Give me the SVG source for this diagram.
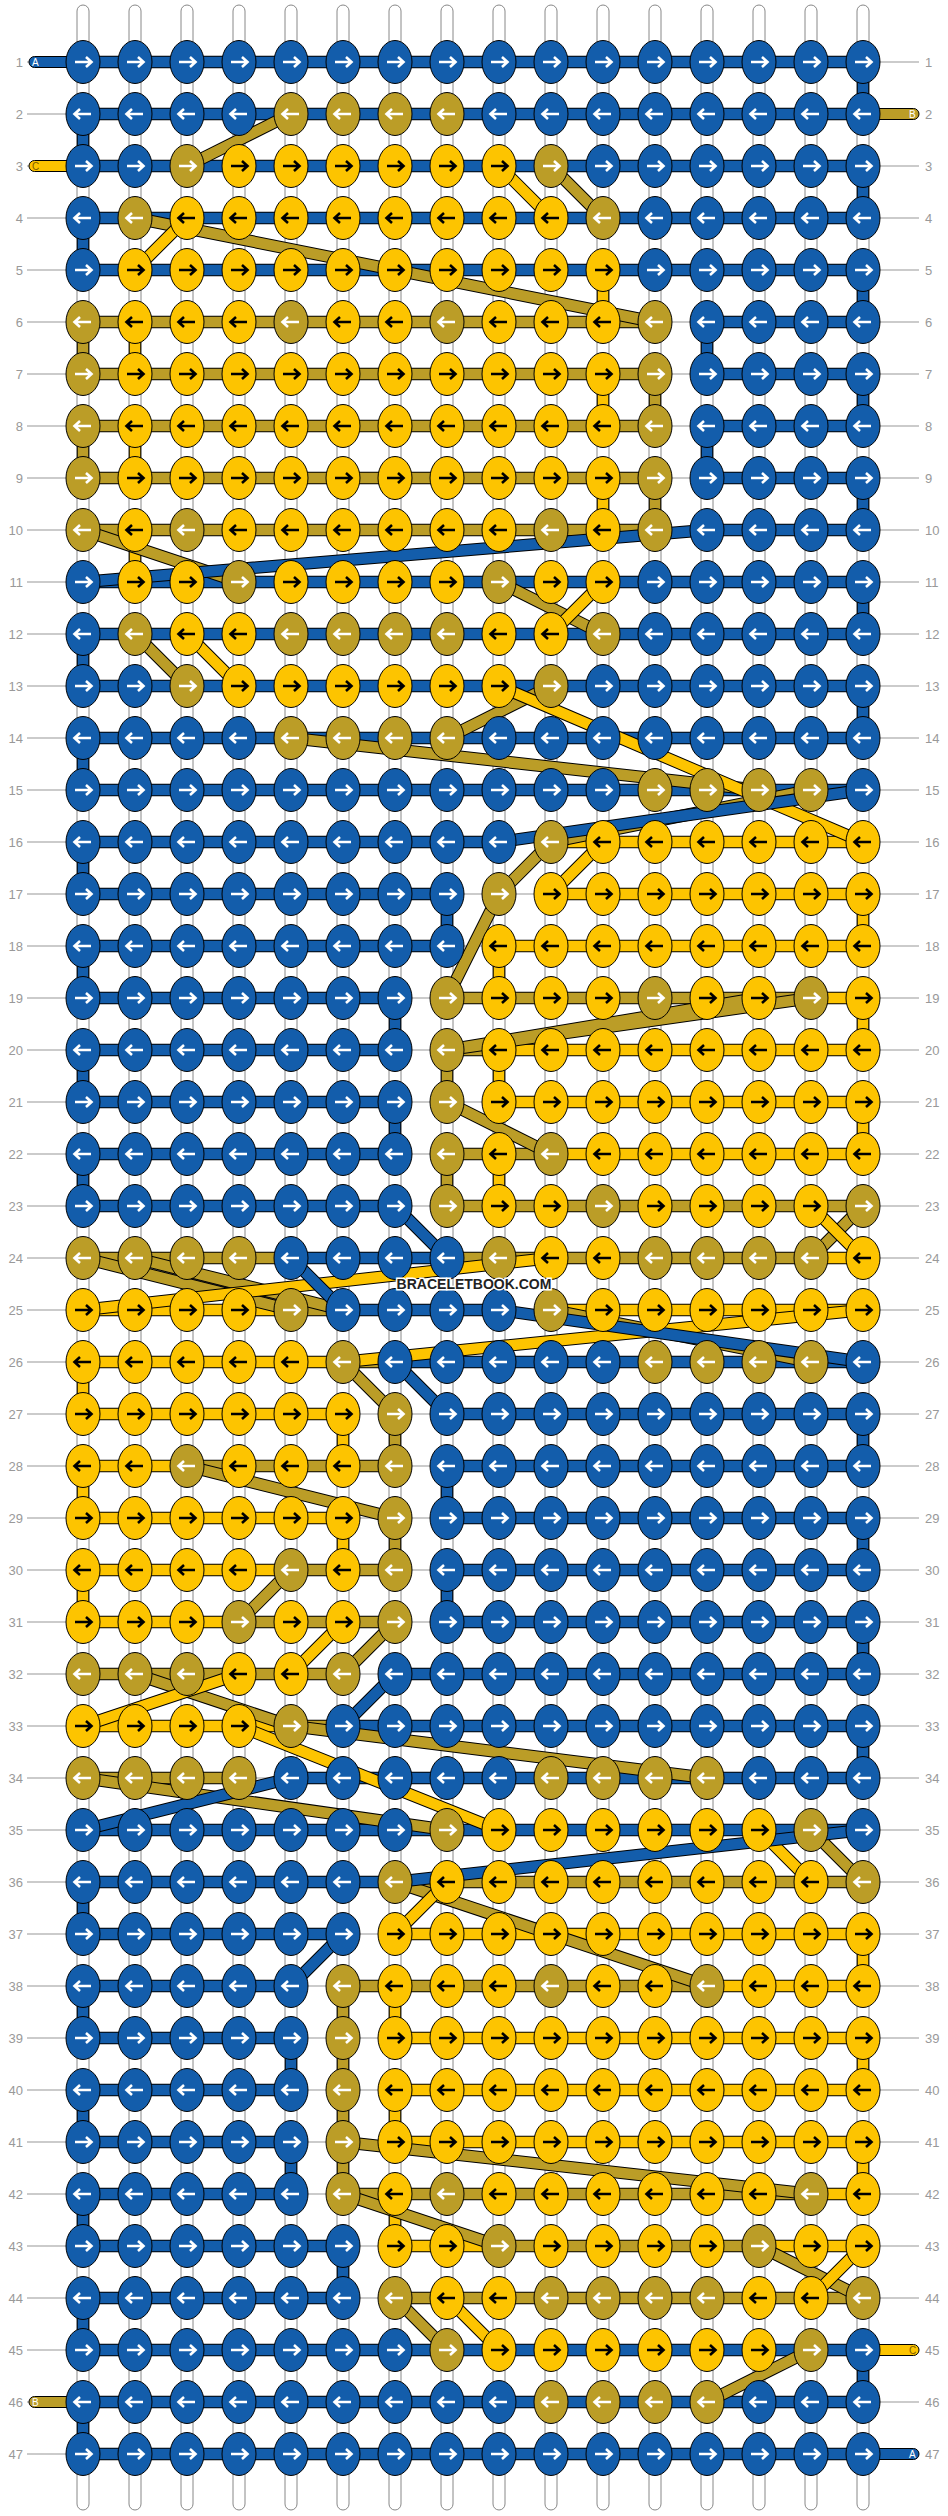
<svg xmlns="http://www.w3.org/2000/svg" xmlns:xlink="http://www.w3.org/1999/xlink" width="948" height="2516" viewBox="0 0 948 2516">
<style>
.g{fill:none;stroke:#bbb;stroke-width:1.3}
.w{fill:#fff;stroke:#888;stroke-width:1}
.o{fill:none;stroke:#000;stroke-width:12.5}
.cb{fill:none;stroke:#135dab;stroke-width:10.5}
.cy{fill:none;stroke:#fdc400;stroke-width:10.5}
.co{fill:none;stroke:#bb9d27;stroke-width:10.5}
.kb{fill:#135dab;stroke:#000;stroke-width:1}
.ky{fill:#fdc400;stroke:#000;stroke-width:1}
.ko{fill:#bb9d27;stroke:#000;stroke-width:1}
.aw{fill:none;stroke:#fff;stroke-width:2.6}
.ak{fill:none;stroke:#000;stroke-width:2.6}
.lb{font-family:"Liberation Sans",Arial,sans-serif;font-size:13px;fill:#999}
.cl{font-family:"Liberation Sans",Arial,sans-serif;font-size:10px}
</style>
<defs>
<ellipse id="e" rx="17" ry="21.5"/>
<path id="ar" d="M-8 0H8M3-5L8.5 0L3 5"/>
<g id="bR"><use href="#e" class="kb"/><use href="#ar" class="aw"/></g>
<g id="bL"><use href="#e" class="kb"/><use href="#ar" class="aw" transform="scale(-1 1)"/></g>
<g id="yR"><use href="#e" class="ky"/><use href="#ar" class="ak"/></g>
<g id="yL"><use href="#e" class="ky"/><use href="#ar" class="ak" transform="scale(-1 1)"/></g>
<g id="oR"><use href="#e" class="ko"/><use href="#ar" class="aw"/></g>
<g id="oL"><use href="#e" class="ko"/><use href="#ar" class="aw" transform="scale(-1 1)"/></g>
<path id="hB" d="M83 62H863M83 114H863M83 166H863M83 218H863M83 270H863M707 322H863M707 374H863M707 426H863M707 478H863M707 530H863M83 582H863M83 634H863M83 686H863M83 738H863M83 790H863M83 842H499M83 894H447M83 946H447M83 998H395M83 1050H395M83 1102H395M83 1154H395M83 1206H395M291 1258H447M343 1310H499M395 1362H863M447 1414H863M447 1466H863M447 1518H863M447 1570H863M447 1622H863M395 1674H863M343 1726H863M291 1778H863M83 1830H863M83 1882H395M83 1934H343M83 1986H291M83 2038H291M83 2090H291M83 2142H291M83 2194H291M83 2246H343M83 2298H343M83 2350H863M83 2402H863M83 2454H863M863 62V114M83 114V166M863 166V218M83 218V270M863 270V322M707 322V374M863 374V426M707 426V478M863 478V530M863 582V634M83 634V686M863 686V738M83 738V790M83 842V894M447 894V946M83 946V998M395 998V1050M83 1050V1102M395 1102V1154M83 1154V1206M863 1414V1466M447 1466V1518M863 1518V1570M447 1570V1622M863 1622V1674M863 1726V1778M83 1882V1934M83 1986V2038M291 2038V2090M83 2090V2142M291 2142V2194M83 2194V2246M343 2246V2298M83 2298V2350M863 2350V2402M83 2402V2454"/>
<path id="hY" d="M551 842H863M551 894H863M499 946H863M811 998H863M499 1050H863M499 1102H863M551 1154H863M811 1258H863M83 1310H291M551 1310H863M83 1362H343M83 1414H343M83 1466H187M83 1518H343M83 1570H291M83 1622H239M83 1726H291M395 1934H863M707 1986H863M395 2038H863M395 2090H863M395 2142H863M811 2194H863M395 2246H499M759 2246H863M603 270V322M135 322V374M603 374V426M135 426V478M603 478V530M135 530V582M863 894V946M499 946V998M863 998V1050M499 1050V1102M863 1102V1154M499 1154V1206M83 1362V1414M343 1414V1466M83 1466V1518M343 1518V1570M83 1570V1622M863 1934V1986M395 1986V2038M863 2038V2090M395 2090V2142M863 2142V2194M395 2194V2246"/>
<path id="hO" d="M83 322H655M83 374H655M83 426H655M83 478H655M83 530H655M447 998H811M447 1050H499M447 1154H551M447 1206H863M83 1258H291M447 1258H811M291 1310H343M343 1362H395M187 1466H395M291 1570H395M239 1622H395M83 1674H343M291 1726H343M83 1778H239M395 1882H863M343 1986H707M343 2194H811M499 2246H759M395 2298H863M83 322V374M655 374V426M83 426V478M655 478V530M447 1050V1102M447 1154V1206M395 1414V1466M395 1518V1570M343 1986V2038M343 2038V2090M343 2090V2142M343 2142V2194"/>
<path id="dO" d="M291 114L187 166M551 166L603 218M135 218L655 322M83 530L239 582M499 582L603 634M135 634L187 686M551 686L447 738M291 738L759 790M811 790L551 842M551 842L499 894M499 894L447 998M811 998L447 1050M759 998L447 1050M447 1102L551 1154M863 1206L811 1258M83 1258L291 1310M135 1258L343 1310M551 1310L811 1362M343 1362L395 1414M187 1466L395 1518M291 1570L239 1622M395 1622L343 1674M135 1674L291 1726M291 1726L707 1778M83 1778L447 1830M811 1830L863 1882M395 1882L707 1986M343 2142L811 2194M343 2194L499 2246M759 2246L863 2298M395 2298L447 2350M811 2350L707 2402"/>
<path id="dY" d="M499 166L551 218M187 218L135 270M603 582L551 634M187 634L239 686M499 686L863 842M603 842L551 894M811 1206L863 1258M83 1310L551 1258M343 1362L863 1310M343 1622L291 1674M83 1726L239 1674M239 1726L499 1830M759 1830L811 1882M447 1882L395 1934M863 2246L811 2298M447 2298L499 2350"/>
<path id="dB" d="M707 530L83 582M863 790L499 842M395 1206L447 1258M291 1258L343 1310M499 1310L863 1362M395 1362L447 1414M343 1726L395 1674M83 1830L291 1778M863 1830L395 1882M343 1934L291 1986"/>
</defs>
<rect width="948" height="2516" fill="#fff"/>
<path id="guides" class="g" d="M27 62H919M27 114H919M27 166H919M27 218H919M27 270H919M27 322H919M27 374H919M27 426H919M27 478H919M27 530H919M27 582H919M27 634H919M27 686H919M27 738H919M27 790H919M27 842H919M27 894H919M27 946H919M27 998H919M27 1050H919M27 1102H919M27 1154H919M27 1206H919M27 1258H919M27 1310H919M27 1362H919M27 1414H919M27 1466H919M27 1518H919M27 1570H919M27 1622H919M27 1674H919M27 1726H919M27 1778H919M27 1830H919M27 1882H919M27 1934H919M27 1986H919M27 2038H919M27 2090H919M27 2142H919M27 2194H919M27 2246H919M27 2298H919M27 2350H919M27 2402H919M27 2454H919"/>
<g id="warps" class="w">
<rect x="77" y="5" width="12" height="2505" rx="6"/><rect x="129" y="5" width="12" height="2505" rx="6"/><rect x="181" y="5" width="12" height="2505" rx="6"/><rect x="233" y="5" width="12" height="2505" rx="6"/><rect x="285" y="5" width="12" height="2505" rx="6"/><rect x="337" y="5" width="12" height="2505" rx="6"/><rect x="389" y="5" width="12" height="2505" rx="6"/><rect x="441" y="5" width="12" height="2505" rx="6"/><rect x="493" y="5" width="12" height="2505" rx="6"/><rect x="545" y="5" width="12" height="2505" rx="6"/><rect x="597" y="5" width="12" height="2505" rx="6"/><rect x="649" y="5" width="12" height="2505" rx="6"/><rect x="701" y="5" width="12" height="2505" rx="6"/><rect x="753" y="5" width="12" height="2505" rx="6"/><rect x="805" y="5" width="12" height="2505" rx="6"/><rect x="857" y="5" width="12" height="2505" rx="6"/>
</g>
<g id="connectors">
<use href="#hB" class="o"/><use href="#hB" class="cb"/>
<use href="#hY" class="o"/><use href="#hY" class="cy"/>
<use href="#hO" class="o"/><use href="#hO" class="co"/>
<use href="#dO" class="o"/><use href="#dO" class="co"/>
<use href="#dY" class="o"/><use href="#dY" class="cy"/>
<use href="#dB" class="o"/><use href="#dB" class="cb"/>
</g>
<g id="ends">
<rect x="29" y="56.5" width="58" height="11" rx="5.5" class="kb"/><text x="32" y="66" class="cl" fill="#fff">A</text>
<rect x="859" y="108.5" width="60" height="11" rx="5.5" class="ko"/><text x="909" y="118" class="cl" fill="#fff">B</text>
<rect x="29" y="160.5" width="58" height="11" rx="5.5" class="ky"/><text x="32" y="170" class="cl" fill="#7a5a00">C</text>
<rect x="859" y="2344.5" width="60" height="11" rx="5.5" class="ky"/><text x="909" y="2354" class="cl" fill="#7a5a00">C</text>
<rect x="29" y="2396.5" width="58" height="11" rx="5.5" class="ko"/><text x="32" y="2406" class="cl" fill="#fff">B</text>
<rect x="859" y="2448.5" width="60" height="11" rx="5.5" class="kb"/><text x="909" y="2458" class="cl" fill="#fff">A</text>
</g>
<g id="knots">
<g id="r1" transform="translate(0,62)"><use id="k1-1" href="#bR" x="83"/><use id="k1-2" href="#bR" x="135"/><use id="k1-3" href="#bR" x="187"/><use id="k1-4" href="#bR" x="239"/><use id="k1-5" href="#bR" x="291"/><use id="k1-6" href="#bR" x="343"/><use id="k1-7" href="#bR" x="395"/><use id="k1-8" href="#bR" x="447"/><use id="k1-9" href="#bR" x="499"/><use id="k1-10" href="#bR" x="551"/><use id="k1-11" href="#bR" x="603"/><use id="k1-12" href="#bR" x="655"/><use id="k1-13" href="#bR" x="707"/><use id="k1-14" href="#bR" x="759"/><use id="k1-15" href="#bR" x="811"/><use id="k1-16" href="#bR" x="863"/></g>
<g id="r2" transform="translate(0,114)"><use id="k2-1" href="#bL" x="83"/><use id="k2-2" href="#bL" x="135"/><use id="k2-3" href="#bL" x="187"/><use id="k2-4" href="#bL" x="239"/><use id="k2-5" href="#oL" x="291"/><use id="k2-6" href="#oL" x="343"/><use id="k2-7" href="#oL" x="395"/><use id="k2-8" href="#oL" x="447"/><use id="k2-9" href="#bL" x="499"/><use id="k2-10" href="#bL" x="551"/><use id="k2-11" href="#bL" x="603"/><use id="k2-12" href="#bL" x="655"/><use id="k2-13" href="#bL" x="707"/><use id="k2-14" href="#bL" x="759"/><use id="k2-15" href="#bL" x="811"/><use id="k2-16" href="#bL" x="863"/></g>
<g id="r3" transform="translate(0,166)"><use id="k3-1" href="#bR" x="83"/><use id="k3-2" href="#bR" x="135"/><use id="k3-3" href="#oR" x="187"/><use id="k3-4" href="#yR" x="239"/><use id="k3-5" href="#yR" x="291"/><use id="k3-6" href="#yR" x="343"/><use id="k3-7" href="#yR" x="395"/><use id="k3-8" href="#yR" x="447"/><use id="k3-9" href="#yR" x="499"/><use id="k3-10" href="#oR" x="551"/><use id="k3-11" href="#bR" x="603"/><use id="k3-12" href="#bR" x="655"/><use id="k3-13" href="#bR" x="707"/><use id="k3-14" href="#bR" x="759"/><use id="k3-15" href="#bR" x="811"/><use id="k3-16" href="#bR" x="863"/></g>
<g id="r4" transform="translate(0,218)"><use id="k4-1" href="#bL" x="83"/><use id="k4-2" href="#oL" x="135"/><use id="k4-3" href="#yL" x="187"/><use id="k4-4" href="#yL" x="239"/><use id="k4-5" href="#yL" x="291"/><use id="k4-6" href="#yL" x="343"/><use id="k4-7" href="#yL" x="395"/><use id="k4-8" href="#yL" x="447"/><use id="k4-9" href="#yL" x="499"/><use id="k4-10" href="#yL" x="551"/><use id="k4-11" href="#oL" x="603"/><use id="k4-12" href="#bL" x="655"/><use id="k4-13" href="#bL" x="707"/><use id="k4-14" href="#bL" x="759"/><use id="k4-15" href="#bL" x="811"/><use id="k4-16" href="#bL" x="863"/></g>
<g id="r5" transform="translate(0,270)"><use id="k5-1" href="#bR" x="83"/><use id="k5-2" href="#yR" x="135"/><use id="k5-3" href="#yR" x="187"/><use id="k5-4" href="#yR" x="239"/><use id="k5-5" href="#yR" x="291"/><use id="k5-6" href="#yR" x="343"/><use id="k5-7" href="#yR" x="395"/><use id="k5-8" href="#yR" x="447"/><use id="k5-9" href="#yR" x="499"/><use id="k5-10" href="#yR" x="551"/><use id="k5-11" href="#yR" x="603"/><use id="k5-12" href="#bR" x="655"/><use id="k5-13" href="#bR" x="707"/><use id="k5-14" href="#bR" x="759"/><use id="k5-15" href="#bR" x="811"/><use id="k5-16" href="#bR" x="863"/></g>
<g id="r6" transform="translate(0,322)"><use id="k6-1" href="#oL" x="83"/><use id="k6-2" href="#yL" x="135"/><use id="k6-3" href="#yL" x="187"/><use id="k6-4" href="#yL" x="239"/><use id="k6-5" href="#oL" x="291"/><use id="k6-6" href="#yL" x="343"/><use id="k6-7" href="#yL" x="395"/><use id="k6-8" href="#oL" x="447"/><use id="k6-9" href="#yL" x="499"/><use id="k6-10" href="#yL" x="551"/><use id="k6-11" href="#yL" x="603"/><use id="k6-12" href="#oL" x="655"/><use id="k6-13" href="#bL" x="707"/><use id="k6-14" href="#bL" x="759"/><use id="k6-15" href="#bL" x="811"/><use id="k6-16" href="#bL" x="863"/></g>
<g id="r7" transform="translate(0,374)"><use id="k7-1" href="#oR" x="83"/><use id="k7-2" href="#yR" x="135"/><use id="k7-3" href="#yR" x="187"/><use id="k7-4" href="#yR" x="239"/><use id="k7-5" href="#yR" x="291"/><use id="k7-6" href="#yR" x="343"/><use id="k7-7" href="#yR" x="395"/><use id="k7-8" href="#yR" x="447"/><use id="k7-9" href="#yR" x="499"/><use id="k7-10" href="#yR" x="551"/><use id="k7-11" href="#yR" x="603"/><use id="k7-12" href="#oR" x="655"/><use id="k7-13" href="#bR" x="707"/><use id="k7-14" href="#bR" x="759"/><use id="k7-15" href="#bR" x="811"/><use id="k7-16" href="#bR" x="863"/></g>
<g id="r8" transform="translate(0,426)"><use id="k8-1" href="#oL" x="83"/><use id="k8-2" href="#yL" x="135"/><use id="k8-3" href="#yL" x="187"/><use id="k8-4" href="#yL" x="239"/><use id="k8-5" href="#yL" x="291"/><use id="k8-6" href="#yL" x="343"/><use id="k8-7" href="#yL" x="395"/><use id="k8-8" href="#yL" x="447"/><use id="k8-9" href="#yL" x="499"/><use id="k8-10" href="#yL" x="551"/><use id="k8-11" href="#yL" x="603"/><use id="k8-12" href="#oL" x="655"/><use id="k8-13" href="#bL" x="707"/><use id="k8-14" href="#bL" x="759"/><use id="k8-15" href="#bL" x="811"/><use id="k8-16" href="#bL" x="863"/></g>
<g id="r9" transform="translate(0,478)"><use id="k9-1" href="#oR" x="83"/><use id="k9-2" href="#yR" x="135"/><use id="k9-3" href="#yR" x="187"/><use id="k9-4" href="#yR" x="239"/><use id="k9-5" href="#yR" x="291"/><use id="k9-6" href="#yR" x="343"/><use id="k9-7" href="#yR" x="395"/><use id="k9-8" href="#yR" x="447"/><use id="k9-9" href="#yR" x="499"/><use id="k9-10" href="#yR" x="551"/><use id="k9-11" href="#yR" x="603"/><use id="k9-12" href="#oR" x="655"/><use id="k9-13" href="#bR" x="707"/><use id="k9-14" href="#bR" x="759"/><use id="k9-15" href="#bR" x="811"/><use id="k9-16" href="#bR" x="863"/></g>
<g id="r10" transform="translate(0,530)"><use id="k10-1" href="#oL" x="83"/><use id="k10-2" href="#yL" x="135"/><use id="k10-3" href="#oL" x="187"/><use id="k10-4" href="#yL" x="239"/><use id="k10-5" href="#yL" x="291"/><use id="k10-6" href="#yL" x="343"/><use id="k10-7" href="#yL" x="395"/><use id="k10-8" href="#yL" x="447"/><use id="k10-9" href="#yL" x="499"/><use id="k10-10" href="#oL" x="551"/><use id="k10-11" href="#yL" x="603"/><use id="k10-12" href="#oL" x="655"/><use id="k10-13" href="#bL" x="707"/><use id="k10-14" href="#bL" x="759"/><use id="k10-15" href="#bL" x="811"/><use id="k10-16" href="#bL" x="863"/></g>
<g id="r11" transform="translate(0,582)"><use id="k11-1" href="#bR" x="83"/><use id="k11-2" href="#yR" x="135"/><use id="k11-3" href="#yR" x="187"/><use id="k11-4" href="#oR" x="239"/><use id="k11-5" href="#yR" x="291"/><use id="k11-6" href="#yR" x="343"/><use id="k11-7" href="#yR" x="395"/><use id="k11-8" href="#yR" x="447"/><use id="k11-9" href="#oR" x="499"/><use id="k11-10" href="#yR" x="551"/><use id="k11-11" href="#yR" x="603"/><use id="k11-12" href="#bR" x="655"/><use id="k11-13" href="#bR" x="707"/><use id="k11-14" href="#bR" x="759"/><use id="k11-15" href="#bR" x="811"/><use id="k11-16" href="#bR" x="863"/></g>
<g id="r12" transform="translate(0,634)"><use id="k12-1" href="#bL" x="83"/><use id="k12-2" href="#oL" x="135"/><use id="k12-3" href="#yL" x="187"/><use id="k12-4" href="#yL" x="239"/><use id="k12-5" href="#oL" x="291"/><use id="k12-6" href="#oL" x="343"/><use id="k12-7" href="#oL" x="395"/><use id="k12-8" href="#oL" x="447"/><use id="k12-9" href="#yL" x="499"/><use id="k12-10" href="#yL" x="551"/><use id="k12-11" href="#oL" x="603"/><use id="k12-12" href="#bL" x="655"/><use id="k12-13" href="#bL" x="707"/><use id="k12-14" href="#bL" x="759"/><use id="k12-15" href="#bL" x="811"/><use id="k12-16" href="#bL" x="863"/></g>
<g id="r13" transform="translate(0,686)"><use id="k13-1" href="#bR" x="83"/><use id="k13-2" href="#bR" x="135"/><use id="k13-3" href="#oR" x="187"/><use id="k13-4" href="#yR" x="239"/><use id="k13-5" href="#yR" x="291"/><use id="k13-6" href="#yR" x="343"/><use id="k13-7" href="#yR" x="395"/><use id="k13-8" href="#yR" x="447"/><use id="k13-9" href="#yR" x="499"/><use id="k13-10" href="#oR" x="551"/><use id="k13-11" href="#bR" x="603"/><use id="k13-12" href="#bR" x="655"/><use id="k13-13" href="#bR" x="707"/><use id="k13-14" href="#bR" x="759"/><use id="k13-15" href="#bR" x="811"/><use id="k13-16" href="#bR" x="863"/></g>
<g id="r14" transform="translate(0,738)"><use id="k14-1" href="#bL" x="83"/><use id="k14-2" href="#bL" x="135"/><use id="k14-3" href="#bL" x="187"/><use id="k14-4" href="#bL" x="239"/><use id="k14-5" href="#oL" x="291"/><use id="k14-6" href="#oL" x="343"/><use id="k14-7" href="#oL" x="395"/><use id="k14-8" href="#oL" x="447"/><use id="k14-9" href="#bL" x="499"/><use id="k14-10" href="#bL" x="551"/><use id="k14-11" href="#bL" x="603"/><use id="k14-12" href="#bL" x="655"/><use id="k14-13" href="#bL" x="707"/><use id="k14-14" href="#bL" x="759"/><use id="k14-15" href="#bL" x="811"/><use id="k14-16" href="#bL" x="863"/></g>
<g id="r15" transform="translate(0,790)"><use id="k15-1" href="#bR" x="83"/><use id="k15-2" href="#bR" x="135"/><use id="k15-3" href="#bR" x="187"/><use id="k15-4" href="#bR" x="239"/><use id="k15-5" href="#bR" x="291"/><use id="k15-6" href="#bR" x="343"/><use id="k15-7" href="#bR" x="395"/><use id="k15-8" href="#bR" x="447"/><use id="k15-9" href="#bR" x="499"/><use id="k15-10" href="#bR" x="551"/><use id="k15-11" href="#bR" x="603"/><use id="k15-12" href="#oR" x="655"/><use id="k15-13" href="#oR" x="707"/><use id="k15-14" href="#oR" x="759"/><use id="k15-15" href="#oR" x="811"/><use id="k15-16" href="#bR" x="863"/></g>
<g id="r16" transform="translate(0,842)"><use id="k16-1" href="#bL" x="83"/><use id="k16-2" href="#bL" x="135"/><use id="k16-3" href="#bL" x="187"/><use id="k16-4" href="#bL" x="239"/><use id="k16-5" href="#bL" x="291"/><use id="k16-6" href="#bL" x="343"/><use id="k16-7" href="#bL" x="395"/><use id="k16-8" href="#bL" x="447"/><use id="k16-9" href="#bL" x="499"/><use id="k16-10" href="#oL" x="551"/><use id="k16-11" href="#yL" x="603"/><use id="k16-12" href="#yL" x="655"/><use id="k16-13" href="#yL" x="707"/><use id="k16-14" href="#yL" x="759"/><use id="k16-15" href="#yL" x="811"/><use id="k16-16" href="#yL" x="863"/></g>
<g id="r17" transform="translate(0,894)"><use id="k17-1" href="#bR" x="83"/><use id="k17-2" href="#bR" x="135"/><use id="k17-3" href="#bR" x="187"/><use id="k17-4" href="#bR" x="239"/><use id="k17-5" href="#bR" x="291"/><use id="k17-6" href="#bR" x="343"/><use id="k17-7" href="#bR" x="395"/><use id="k17-8" href="#bR" x="447"/><use id="k17-9" href="#oR" x="499"/><use id="k17-10" href="#yR" x="551"/><use id="k17-11" href="#yR" x="603"/><use id="k17-12" href="#yR" x="655"/><use id="k17-13" href="#yR" x="707"/><use id="k17-14" href="#yR" x="759"/><use id="k17-15" href="#yR" x="811"/><use id="k17-16" href="#yR" x="863"/></g>
<g id="r18" transform="translate(0,946)"><use id="k18-1" href="#bL" x="83"/><use id="k18-2" href="#bL" x="135"/><use id="k18-3" href="#bL" x="187"/><use id="k18-4" href="#bL" x="239"/><use id="k18-5" href="#bL" x="291"/><use id="k18-6" href="#bL" x="343"/><use id="k18-7" href="#bL" x="395"/><use id="k18-8" href="#bL" x="447"/><use id="k18-9" href="#yL" x="499"/><use id="k18-10" href="#yL" x="551"/><use id="k18-11" href="#yL" x="603"/><use id="k18-12" href="#yL" x="655"/><use id="k18-13" href="#yL" x="707"/><use id="k18-14" href="#yL" x="759"/><use id="k18-15" href="#yL" x="811"/><use id="k18-16" href="#yL" x="863"/></g>
<g id="r19" transform="translate(0,998)"><use id="k19-1" href="#bR" x="83"/><use id="k19-2" href="#bR" x="135"/><use id="k19-3" href="#bR" x="187"/><use id="k19-4" href="#bR" x="239"/><use id="k19-5" href="#bR" x="291"/><use id="k19-6" href="#bR" x="343"/><use id="k19-7" href="#bR" x="395"/><use id="k19-8" href="#oR" x="447"/><use id="k19-9" href="#yR" x="499"/><use id="k19-10" href="#yR" x="551"/><use id="k19-11" href="#yR" x="603"/><use id="k19-12" href="#oR" x="655"/><use id="k19-13" href="#yR" x="707"/><use id="k19-14" href="#yR" x="759"/><use id="k19-15" href="#oR" x="811"/><use id="k19-16" href="#yR" x="863"/></g>
<g id="r20" transform="translate(0,1050)"><use id="k20-1" href="#bL" x="83"/><use id="k20-2" href="#bL" x="135"/><use id="k20-3" href="#bL" x="187"/><use id="k20-4" href="#bL" x="239"/><use id="k20-5" href="#bL" x="291"/><use id="k20-6" href="#bL" x="343"/><use id="k20-7" href="#bL" x="395"/><use id="k20-8" href="#oL" x="447"/><use id="k20-9" href="#yL" x="499"/><use id="k20-10" href="#yL" x="551"/><use id="k20-11" href="#yL" x="603"/><use id="k20-12" href="#yL" x="655"/><use id="k20-13" href="#yL" x="707"/><use id="k20-14" href="#yL" x="759"/><use id="k20-15" href="#yL" x="811"/><use id="k20-16" href="#yL" x="863"/></g>
<g id="r21" transform="translate(0,1102)"><use id="k21-1" href="#bR" x="83"/><use id="k21-2" href="#bR" x="135"/><use id="k21-3" href="#bR" x="187"/><use id="k21-4" href="#bR" x="239"/><use id="k21-5" href="#bR" x="291"/><use id="k21-6" href="#bR" x="343"/><use id="k21-7" href="#bR" x="395"/><use id="k21-8" href="#oR" x="447"/><use id="k21-9" href="#yR" x="499"/><use id="k21-10" href="#yR" x="551"/><use id="k21-11" href="#yR" x="603"/><use id="k21-12" href="#yR" x="655"/><use id="k21-13" href="#yR" x="707"/><use id="k21-14" href="#yR" x="759"/><use id="k21-15" href="#yR" x="811"/><use id="k21-16" href="#yR" x="863"/></g>
<g id="r22" transform="translate(0,1154)"><use id="k22-1" href="#bL" x="83"/><use id="k22-2" href="#bL" x="135"/><use id="k22-3" href="#bL" x="187"/><use id="k22-4" href="#bL" x="239"/><use id="k22-5" href="#bL" x="291"/><use id="k22-6" href="#bL" x="343"/><use id="k22-7" href="#bL" x="395"/><use id="k22-8" href="#oL" x="447"/><use id="k22-9" href="#yL" x="499"/><use id="k22-10" href="#oL" x="551"/><use id="k22-11" href="#yL" x="603"/><use id="k22-12" href="#yL" x="655"/><use id="k22-13" href="#yL" x="707"/><use id="k22-14" href="#yL" x="759"/><use id="k22-15" href="#yL" x="811"/><use id="k22-16" href="#yL" x="863"/></g>
<g id="r23" transform="translate(0,1206)"><use id="k23-1" href="#bR" x="83"/><use id="k23-2" href="#bR" x="135"/><use id="k23-3" href="#bR" x="187"/><use id="k23-4" href="#bR" x="239"/><use id="k23-5" href="#bR" x="291"/><use id="k23-6" href="#bR" x="343"/><use id="k23-7" href="#bR" x="395"/><use id="k23-8" href="#oR" x="447"/><use id="k23-9" href="#yR" x="499"/><use id="k23-10" href="#yR" x="551"/><use id="k23-11" href="#oR" x="603"/><use id="k23-12" href="#yR" x="655"/><use id="k23-13" href="#yR" x="707"/><use id="k23-14" href="#yR" x="759"/><use id="k23-15" href="#yR" x="811"/><use id="k23-16" href="#oR" x="863"/></g>
<g id="r24" transform="translate(0,1258)"><use id="k24-1" href="#oL" x="83"/><use id="k24-2" href="#oL" x="135"/><use id="k24-3" href="#oL" x="187"/><use id="k24-4" href="#oL" x="239"/><use id="k24-5" href="#bL" x="291"/><use id="k24-6" href="#bL" x="343"/><use id="k24-7" href="#bL" x="395"/><use id="k24-8" href="#bL" x="447"/><use id="k24-9" href="#oL" x="499"/><use id="k24-10" href="#yL" x="551"/><use id="k24-11" href="#yL" x="603"/><use id="k24-12" href="#oL" x="655"/><use id="k24-13" href="#oL" x="707"/><use id="k24-14" href="#oL" x="759"/><use id="k24-15" href="#oL" x="811"/><use id="k24-16" href="#yL" x="863"/></g>
<g id="r25" transform="translate(0,1310)"><use id="k25-1" href="#yR" x="83"/><use id="k25-2" href="#yR" x="135"/><use id="k25-3" href="#yR" x="187"/><use id="k25-4" href="#yR" x="239"/><use id="k25-5" href="#oR" x="291"/><use id="k25-6" href="#bR" x="343"/><use id="k25-7" href="#bR" x="395"/><use id="k25-8" href="#bR" x="447"/><use id="k25-9" href="#bR" x="499"/><use id="k25-10" href="#oR" x="551"/><use id="k25-11" href="#yR" x="603"/><use id="k25-12" href="#yR" x="655"/><use id="k25-13" href="#yR" x="707"/><use id="k25-14" href="#yR" x="759"/><use id="k25-15" href="#yR" x="811"/><use id="k25-16" href="#yR" x="863"/></g>
<g id="r26" transform="translate(0,1362)"><use id="k26-1" href="#yL" x="83"/><use id="k26-2" href="#yL" x="135"/><use id="k26-3" href="#yL" x="187"/><use id="k26-4" href="#yL" x="239"/><use id="k26-5" href="#yL" x="291"/><use id="k26-6" href="#oL" x="343"/><use id="k26-7" href="#bL" x="395"/><use id="k26-8" href="#bL" x="447"/><use id="k26-9" href="#bL" x="499"/><use id="k26-10" href="#bL" x="551"/><use id="k26-11" href="#bL" x="603"/><use id="k26-12" href="#oL" x="655"/><use id="k26-13" href="#oL" x="707"/><use id="k26-14" href="#oL" x="759"/><use id="k26-15" href="#oL" x="811"/><use id="k26-16" href="#bL" x="863"/></g>
<g id="r27" transform="translate(0,1414)"><use id="k27-1" href="#yR" x="83"/><use id="k27-2" href="#yR" x="135"/><use id="k27-3" href="#yR" x="187"/><use id="k27-4" href="#yR" x="239"/><use id="k27-5" href="#yR" x="291"/><use id="k27-6" href="#yR" x="343"/><use id="k27-7" href="#oR" x="395"/><use id="k27-8" href="#bR" x="447"/><use id="k27-9" href="#bR" x="499"/><use id="k27-10" href="#bR" x="551"/><use id="k27-11" href="#bR" x="603"/><use id="k27-12" href="#bR" x="655"/><use id="k27-13" href="#bR" x="707"/><use id="k27-14" href="#bR" x="759"/><use id="k27-15" href="#bR" x="811"/><use id="k27-16" href="#bR" x="863"/></g>
<g id="r28" transform="translate(0,1466)"><use id="k28-1" href="#yL" x="83"/><use id="k28-2" href="#yL" x="135"/><use id="k28-3" href="#oL" x="187"/><use id="k28-4" href="#yL" x="239"/><use id="k28-5" href="#yL" x="291"/><use id="k28-6" href="#yL" x="343"/><use id="k28-7" href="#oL" x="395"/><use id="k28-8" href="#bL" x="447"/><use id="k28-9" href="#bL" x="499"/><use id="k28-10" href="#bL" x="551"/><use id="k28-11" href="#bL" x="603"/><use id="k28-12" href="#bL" x="655"/><use id="k28-13" href="#bL" x="707"/><use id="k28-14" href="#bL" x="759"/><use id="k28-15" href="#bL" x="811"/><use id="k28-16" href="#bL" x="863"/></g>
<g id="r29" transform="translate(0,1518)"><use id="k29-1" href="#yR" x="83"/><use id="k29-2" href="#yR" x="135"/><use id="k29-3" href="#yR" x="187"/><use id="k29-4" href="#yR" x="239"/><use id="k29-5" href="#yR" x="291"/><use id="k29-6" href="#yR" x="343"/><use id="k29-7" href="#oR" x="395"/><use id="k29-8" href="#bR" x="447"/><use id="k29-9" href="#bR" x="499"/><use id="k29-10" href="#bR" x="551"/><use id="k29-11" href="#bR" x="603"/><use id="k29-12" href="#bR" x="655"/><use id="k29-13" href="#bR" x="707"/><use id="k29-14" href="#bR" x="759"/><use id="k29-15" href="#bR" x="811"/><use id="k29-16" href="#bR" x="863"/></g>
<g id="r30" transform="translate(0,1570)"><use id="k30-1" href="#yL" x="83"/><use id="k30-2" href="#yL" x="135"/><use id="k30-3" href="#yL" x="187"/><use id="k30-4" href="#yL" x="239"/><use id="k30-5" href="#oL" x="291"/><use id="k30-6" href="#yL" x="343"/><use id="k30-7" href="#oL" x="395"/><use id="k30-8" href="#bL" x="447"/><use id="k30-9" href="#bL" x="499"/><use id="k30-10" href="#bL" x="551"/><use id="k30-11" href="#bL" x="603"/><use id="k30-12" href="#bL" x="655"/><use id="k30-13" href="#bL" x="707"/><use id="k30-14" href="#bL" x="759"/><use id="k30-15" href="#bL" x="811"/><use id="k30-16" href="#bL" x="863"/></g>
<g id="r31" transform="translate(0,1622)"><use id="k31-1" href="#yR" x="83"/><use id="k31-2" href="#yR" x="135"/><use id="k31-3" href="#yR" x="187"/><use id="k31-4" href="#oR" x="239"/><use id="k31-5" href="#yR" x="291"/><use id="k31-6" href="#yR" x="343"/><use id="k31-7" href="#oR" x="395"/><use id="k31-8" href="#bR" x="447"/><use id="k31-9" href="#bR" x="499"/><use id="k31-10" href="#bR" x="551"/><use id="k31-11" href="#bR" x="603"/><use id="k31-12" href="#bR" x="655"/><use id="k31-13" href="#bR" x="707"/><use id="k31-14" href="#bR" x="759"/><use id="k31-15" href="#bR" x="811"/><use id="k31-16" href="#bR" x="863"/></g>
<g id="r32" transform="translate(0,1674)"><use id="k32-1" href="#oL" x="83"/><use id="k32-2" href="#oL" x="135"/><use id="k32-3" href="#oL" x="187"/><use id="k32-4" href="#yL" x="239"/><use id="k32-5" href="#yL" x="291"/><use id="k32-6" href="#oL" x="343"/><use id="k32-7" href="#bL" x="395"/><use id="k32-8" href="#bL" x="447"/><use id="k32-9" href="#bL" x="499"/><use id="k32-10" href="#bL" x="551"/><use id="k32-11" href="#bL" x="603"/><use id="k32-12" href="#bL" x="655"/><use id="k32-13" href="#bL" x="707"/><use id="k32-14" href="#bL" x="759"/><use id="k32-15" href="#bL" x="811"/><use id="k32-16" href="#bL" x="863"/></g>
<g id="r33" transform="translate(0,1726)"><use id="k33-1" href="#yR" x="83"/><use id="k33-2" href="#yR" x="135"/><use id="k33-3" href="#yR" x="187"/><use id="k33-4" href="#yR" x="239"/><use id="k33-5" href="#oR" x="291"/><use id="k33-6" href="#bR" x="343"/><use id="k33-7" href="#bR" x="395"/><use id="k33-8" href="#bR" x="447"/><use id="k33-9" href="#bR" x="499"/><use id="k33-10" href="#bR" x="551"/><use id="k33-11" href="#bR" x="603"/><use id="k33-12" href="#bR" x="655"/><use id="k33-13" href="#bR" x="707"/><use id="k33-14" href="#bR" x="759"/><use id="k33-15" href="#bR" x="811"/><use id="k33-16" href="#bR" x="863"/></g>
<g id="r34" transform="translate(0,1778)"><use id="k34-1" href="#oL" x="83"/><use id="k34-2" href="#oL" x="135"/><use id="k34-3" href="#oL" x="187"/><use id="k34-4" href="#oL" x="239"/><use id="k34-5" href="#bL" x="291"/><use id="k34-6" href="#bL" x="343"/><use id="k34-7" href="#bL" x="395"/><use id="k34-8" href="#bL" x="447"/><use id="k34-9" href="#bL" x="499"/><use id="k34-10" href="#oL" x="551"/><use id="k34-11" href="#oL" x="603"/><use id="k34-12" href="#oL" x="655"/><use id="k34-13" href="#oL" x="707"/><use id="k34-14" href="#bL" x="759"/><use id="k34-15" href="#bL" x="811"/><use id="k34-16" href="#bL" x="863"/></g>
<g id="r35" transform="translate(0,1830)"><use id="k35-1" href="#bR" x="83"/><use id="k35-2" href="#bR" x="135"/><use id="k35-3" href="#bR" x="187"/><use id="k35-4" href="#bR" x="239"/><use id="k35-5" href="#bR" x="291"/><use id="k35-6" href="#bR" x="343"/><use id="k35-7" href="#bR" x="395"/><use id="k35-8" href="#oR" x="447"/><use id="k35-9" href="#yR" x="499"/><use id="k35-10" href="#yR" x="551"/><use id="k35-11" href="#yR" x="603"/><use id="k35-12" href="#yR" x="655"/><use id="k35-13" href="#yR" x="707"/><use id="k35-14" href="#yR" x="759"/><use id="k35-15" href="#oR" x="811"/><use id="k35-16" href="#bR" x="863"/></g>
<g id="r36" transform="translate(0,1882)"><use id="k36-1" href="#bL" x="83"/><use id="k36-2" href="#bL" x="135"/><use id="k36-3" href="#bL" x="187"/><use id="k36-4" href="#bL" x="239"/><use id="k36-5" href="#bL" x="291"/><use id="k36-6" href="#bL" x="343"/><use id="k36-7" href="#oL" x="395"/><use id="k36-8" href="#yL" x="447"/><use id="k36-9" href="#yL" x="499"/><use id="k36-10" href="#yL" x="551"/><use id="k36-11" href="#yL" x="603"/><use id="k36-12" href="#yL" x="655"/><use id="k36-13" href="#yL" x="707"/><use id="k36-14" href="#yL" x="759"/><use id="k36-15" href="#yL" x="811"/><use id="k36-16" href="#oL" x="863"/></g>
<g id="r37" transform="translate(0,1934)"><use id="k37-1" href="#bR" x="83"/><use id="k37-2" href="#bR" x="135"/><use id="k37-3" href="#bR" x="187"/><use id="k37-4" href="#bR" x="239"/><use id="k37-5" href="#bR" x="291"/><use id="k37-6" href="#bR" x="343"/><use id="k37-7" href="#yR" x="395"/><use id="k37-8" href="#yR" x="447"/><use id="k37-9" href="#yR" x="499"/><use id="k37-10" href="#yR" x="551"/><use id="k37-11" href="#yR" x="603"/><use id="k37-12" href="#yR" x="655"/><use id="k37-13" href="#yR" x="707"/><use id="k37-14" href="#yR" x="759"/><use id="k37-15" href="#yR" x="811"/><use id="k37-16" href="#yR" x="863"/></g>
<g id="r38" transform="translate(0,1986)"><use id="k38-1" href="#bL" x="83"/><use id="k38-2" href="#bL" x="135"/><use id="k38-3" href="#bL" x="187"/><use id="k38-4" href="#bL" x="239"/><use id="k38-5" href="#bL" x="291"/><use id="k38-6" href="#oL" x="343"/><use id="k38-7" href="#yL" x="395"/><use id="k38-8" href="#yL" x="447"/><use id="k38-9" href="#yL" x="499"/><use id="k38-10" href="#oL" x="551"/><use id="k38-11" href="#yL" x="603"/><use id="k38-12" href="#yL" x="655"/><use id="k38-13" href="#oL" x="707"/><use id="k38-14" href="#yL" x="759"/><use id="k38-15" href="#yL" x="811"/><use id="k38-16" href="#yL" x="863"/></g>
<g id="r39" transform="translate(0,2038)"><use id="k39-1" href="#bR" x="83"/><use id="k39-2" href="#bR" x="135"/><use id="k39-3" href="#bR" x="187"/><use id="k39-4" href="#bR" x="239"/><use id="k39-5" href="#bR" x="291"/><use id="k39-6" href="#oR" x="343"/><use id="k39-7" href="#yR" x="395"/><use id="k39-8" href="#yR" x="447"/><use id="k39-9" href="#yR" x="499"/><use id="k39-10" href="#yR" x="551"/><use id="k39-11" href="#yR" x="603"/><use id="k39-12" href="#yR" x="655"/><use id="k39-13" href="#yR" x="707"/><use id="k39-14" href="#yR" x="759"/><use id="k39-15" href="#yR" x="811"/><use id="k39-16" href="#yR" x="863"/></g>
<g id="r40" transform="translate(0,2090)"><use id="k40-1" href="#bL" x="83"/><use id="k40-2" href="#bL" x="135"/><use id="k40-3" href="#bL" x="187"/><use id="k40-4" href="#bL" x="239"/><use id="k40-5" href="#bL" x="291"/><use id="k40-6" href="#oL" x="343"/><use id="k40-7" href="#yL" x="395"/><use id="k40-8" href="#yL" x="447"/><use id="k40-9" href="#yL" x="499"/><use id="k40-10" href="#yL" x="551"/><use id="k40-11" href="#yL" x="603"/><use id="k40-12" href="#yL" x="655"/><use id="k40-13" href="#yL" x="707"/><use id="k40-14" href="#yL" x="759"/><use id="k40-15" href="#yL" x="811"/><use id="k40-16" href="#yL" x="863"/></g>
<g id="r41" transform="translate(0,2142)"><use id="k41-1" href="#bR" x="83"/><use id="k41-2" href="#bR" x="135"/><use id="k41-3" href="#bR" x="187"/><use id="k41-4" href="#bR" x="239"/><use id="k41-5" href="#bR" x="291"/><use id="k41-6" href="#oR" x="343"/><use id="k41-7" href="#yR" x="395"/><use id="k41-8" href="#yR" x="447"/><use id="k41-9" href="#yR" x="499"/><use id="k41-10" href="#yR" x="551"/><use id="k41-11" href="#yR" x="603"/><use id="k41-12" href="#yR" x="655"/><use id="k41-13" href="#yR" x="707"/><use id="k41-14" href="#yR" x="759"/><use id="k41-15" href="#yR" x="811"/><use id="k41-16" href="#yR" x="863"/></g>
<g id="r42" transform="translate(0,2194)"><use id="k42-1" href="#bL" x="83"/><use id="k42-2" href="#bL" x="135"/><use id="k42-3" href="#bL" x="187"/><use id="k42-4" href="#bL" x="239"/><use id="k42-5" href="#bL" x="291"/><use id="k42-6" href="#oL" x="343"/><use id="k42-7" href="#yL" x="395"/><use id="k42-8" href="#oL" x="447"/><use id="k42-9" href="#yL" x="499"/><use id="k42-10" href="#yL" x="551"/><use id="k42-11" href="#yL" x="603"/><use id="k42-12" href="#yL" x="655"/><use id="k42-13" href="#yL" x="707"/><use id="k42-14" href="#yL" x="759"/><use id="k42-15" href="#oL" x="811"/><use id="k42-16" href="#yL" x="863"/></g>
<g id="r43" transform="translate(0,2246)"><use id="k43-1" href="#bR" x="83"/><use id="k43-2" href="#bR" x="135"/><use id="k43-3" href="#bR" x="187"/><use id="k43-4" href="#bR" x="239"/><use id="k43-5" href="#bR" x="291"/><use id="k43-6" href="#bR" x="343"/><use id="k43-7" href="#yR" x="395"/><use id="k43-8" href="#yR" x="447"/><use id="k43-9" href="#oR" x="499"/><use id="k43-10" href="#yR" x="551"/><use id="k43-11" href="#yR" x="603"/><use id="k43-12" href="#yR" x="655"/><use id="k43-13" href="#yR" x="707"/><use id="k43-14" href="#oR" x="759"/><use id="k43-15" href="#yR" x="811"/><use id="k43-16" href="#yR" x="863"/></g>
<g id="r44" transform="translate(0,2298)"><use id="k44-1" href="#bL" x="83"/><use id="k44-2" href="#bL" x="135"/><use id="k44-3" href="#bL" x="187"/><use id="k44-4" href="#bL" x="239"/><use id="k44-5" href="#bL" x="291"/><use id="k44-6" href="#bL" x="343"/><use id="k44-7" href="#oL" x="395"/><use id="k44-8" href="#yL" x="447"/><use id="k44-9" href="#yL" x="499"/><use id="k44-10" href="#oL" x="551"/><use id="k44-11" href="#oL" x="603"/><use id="k44-12" href="#oL" x="655"/><use id="k44-13" href="#oL" x="707"/><use id="k44-14" href="#yL" x="759"/><use id="k44-15" href="#yL" x="811"/><use id="k44-16" href="#oL" x="863"/></g>
<g id="r45" transform="translate(0,2350)"><use id="k45-1" href="#bR" x="83"/><use id="k45-2" href="#bR" x="135"/><use id="k45-3" href="#bR" x="187"/><use id="k45-4" href="#bR" x="239"/><use id="k45-5" href="#bR" x="291"/><use id="k45-6" href="#bR" x="343"/><use id="k45-7" href="#bR" x="395"/><use id="k45-8" href="#oR" x="447"/><use id="k45-9" href="#yR" x="499"/><use id="k45-10" href="#yR" x="551"/><use id="k45-11" href="#yR" x="603"/><use id="k45-12" href="#yR" x="655"/><use id="k45-13" href="#yR" x="707"/><use id="k45-14" href="#yR" x="759"/><use id="k45-15" href="#oR" x="811"/><use id="k45-16" href="#bR" x="863"/></g>
<g id="r46" transform="translate(0,2402)"><use id="k46-1" href="#bL" x="83"/><use id="k46-2" href="#bL" x="135"/><use id="k46-3" href="#bL" x="187"/><use id="k46-4" href="#bL" x="239"/><use id="k46-5" href="#bL" x="291"/><use id="k46-6" href="#bL" x="343"/><use id="k46-7" href="#bL" x="395"/><use id="k46-8" href="#bL" x="447"/><use id="k46-9" href="#bL" x="499"/><use id="k46-10" href="#oL" x="551"/><use id="k46-11" href="#oL" x="603"/><use id="k46-12" href="#oL" x="655"/><use id="k46-13" href="#oL" x="707"/><use id="k46-14" href="#bL" x="759"/><use id="k46-15" href="#bL" x="811"/><use id="k46-16" href="#bL" x="863"/></g>
<g id="r47" transform="translate(0,2454)"><use id="k47-1" href="#bR" x="83"/><use id="k47-2" href="#bR" x="135"/><use id="k47-3" href="#bR" x="187"/><use id="k47-4" href="#bR" x="239"/><use id="k47-5" href="#bR" x="291"/><use id="k47-6" href="#bR" x="343"/><use id="k47-7" href="#bR" x="395"/><use id="k47-8" href="#bR" x="447"/><use id="k47-9" href="#bR" x="499"/><use id="k47-10" href="#bR" x="551"/><use id="k47-11" href="#bR" x="603"/><use id="k47-12" href="#bR" x="655"/><use id="k47-13" href="#bR" x="707"/><use id="k47-14" href="#bR" x="759"/><use id="k47-15" href="#bR" x="811"/><use id="k47-16" href="#bR" x="863"/></g>
</g>
<g id="labels-left" class="lb" text-anchor="end">
<text x="23" y="66.5">1</text><text x="23" y="118.5">2</text><text x="23" y="170.5">3</text><text x="23" y="222.5">4</text><text x="23" y="274.5">5</text><text x="23" y="326.5">6</text><text x="23" y="378.5">7</text><text x="23" y="430.5">8</text><text x="23" y="482.5">9</text><text x="23" y="534.5">10</text><text x="23" y="586.5">11</text><text x="23" y="638.5">12</text><text x="23" y="690.5">13</text><text x="23" y="742.5">14</text><text x="23" y="794.5">15</text><text x="23" y="846.5">16</text><text x="23" y="898.5">17</text><text x="23" y="950.5">18</text><text x="23" y="1002.5">19</text><text x="23" y="1054.5">20</text><text x="23" y="1106.5">21</text><text x="23" y="1158.5">22</text><text x="23" y="1210.5">23</text><text x="23" y="1262.5">24</text><text x="23" y="1314.5">25</text><text x="23" y="1366.5">26</text><text x="23" y="1418.5">27</text><text x="23" y="1470.5">28</text><text x="23" y="1522.5">29</text><text x="23" y="1574.5">30</text><text x="23" y="1626.5">31</text><text x="23" y="1678.5">32</text><text x="23" y="1730.5">33</text><text x="23" y="1782.5">34</text><text x="23" y="1834.5">35</text><text x="23" y="1886.5">36</text><text x="23" y="1938.5">37</text><text x="23" y="1990.5">38</text><text x="23" y="2042.5">39</text><text x="23" y="2094.5">40</text><text x="23" y="2146.5">41</text><text x="23" y="2198.5">42</text><text x="23" y="2250.5">43</text><text x="23" y="2302.5">44</text><text x="23" y="2354.5">45</text><text x="23" y="2406.5">46</text><text x="23" y="2458.5">47</text>
</g>
<g id="labels-right" class="lb">
<text x="925" y="66.5">1</text><text x="925" y="118.5">2</text><text x="925" y="170.5">3</text><text x="925" y="222.5">4</text><text x="925" y="274.5">5</text><text x="925" y="326.5">6</text><text x="925" y="378.5">7</text><text x="925" y="430.5">8</text><text x="925" y="482.5">9</text><text x="925" y="534.5">10</text><text x="925" y="586.5">11</text><text x="925" y="638.5">12</text><text x="925" y="690.5">13</text><text x="925" y="742.5">14</text><text x="925" y="794.5">15</text><text x="925" y="846.5">16</text><text x="925" y="898.5">17</text><text x="925" y="950.5">18</text><text x="925" y="1002.5">19</text><text x="925" y="1054.5">20</text><text x="925" y="1106.5">21</text><text x="925" y="1158.5">22</text><text x="925" y="1210.5">23</text><text x="925" y="1262.5">24</text><text x="925" y="1314.5">25</text><text x="925" y="1366.5">26</text><text x="925" y="1418.5">27</text><text x="925" y="1470.5">28</text><text x="925" y="1522.5">29</text><text x="925" y="1574.5">30</text><text x="925" y="1626.5">31</text><text x="925" y="1678.5">32</text><text x="925" y="1730.5">33</text><text x="925" y="1782.5">34</text><text x="925" y="1834.5">35</text><text x="925" y="1886.5">36</text><text x="925" y="1938.5">37</text><text x="925" y="1990.5">38</text><text x="925" y="2042.5">39</text><text x="925" y="2094.5">40</text><text x="925" y="2146.5">41</text><text x="925" y="2198.5">42</text><text x="925" y="2250.5">43</text><text x="925" y="2302.5">44</text><text x="925" y="2354.5">45</text><text x="925" y="2406.5">46</text><text x="925" y="2458.5">47</text>
</g>
<text id="watermark" x="474" y="1289" text-anchor="middle" style="font-family:'Liberation Sans',Arial,sans-serif;font-weight:bold;font-size:14px;fill:#222;stroke:#fff;stroke-width:3;paint-order:stroke">BRACELETBOOK.COM</text>
</svg>
